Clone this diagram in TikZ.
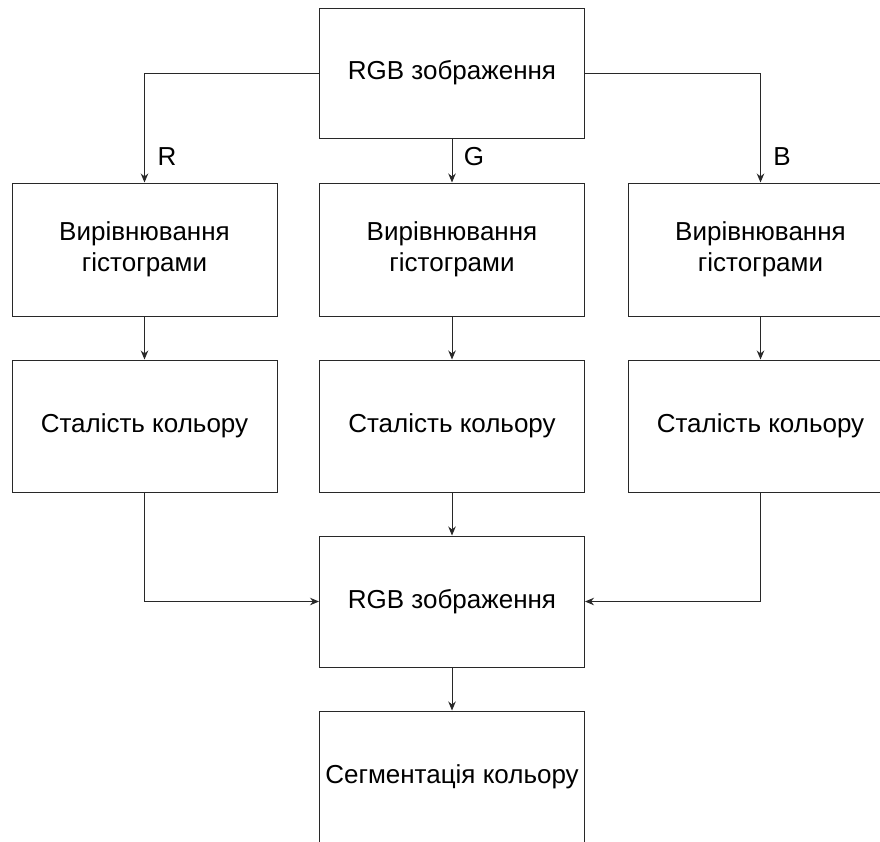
\documentclass[tikz,border=0pt]{standalone}
\usepackage{fontspec}
\setmainfont{Liberation Sans}
\usetikzlibrary{arrows.meta}
\definecolor{lineg}{RGB}{40,40,40}
\begin{document}
\begin{tikzpicture}[x=1pt,y=-1pt,
  blk/.style={draw=lineg,line width=1pt,fill=white,minimum width=265pt,minimum height=132pt,inner sep=0pt,align=center,font=\fontsize{26}{31.5}\selectfont},
  arr/.style={draw=lineg,line width=1pt,-{Stealth[length=9pt,width=7.5pt]}},
  lbl/.style={font=\fontsize{26}{30}\selectfont,inner sep=0pt}]
\useasboundingbox (0,0) rectangle (880,841);
\clip (0,0) rectangle (880,841);
\node[blk,minimum height=130pt] (top) at (452,73) {RGB зображення};
\node[blk,minimum height=133pt] (hL) at (144.5,249.5) {Вирівнювання\\гістограми};
\node[blk,minimum height=133pt] (hM) at (452,249.5) {Вирівнювання\\гістограми};
\node[blk,minimum height=133pt] (hR) at (760.5,249.5) {Вирівнювання\\гістограми};
\node[blk] (cL) at (144.5,426) {Сталість кольору};
\node[blk] (cM) at (452,426) {Сталість кольору};
\node[blk] (cR) at (760.5,426) {Сталість кольору};
\node[blk,minimum height=131pt] (rgb) at (452,601.5) {RGB зображення};
\node[blk,minimum height=131pt] (seg) at (452,776.5) {Сегментація кольору};
\node[lbl] (lR) at (167,157) {R};
\node[lbl] (lG) at (474,157) {G};
\node[lbl] (lB) at (782,157) {B};
\draw[arr] (top.west) -| (hL.north);
\draw[arr] (top.south) -- (hM.north);
\draw[arr] (top.east) -| (hR.north);
\draw[arr] (hL.south) -- (cL.north);
\draw[arr] (hM.south) -- (cM.north);
\draw[arr] (hR.south) -- (cR.north);
\draw[arr] (cM.south) -- (rgb.north);
\draw[arr] (cL.south) |- (rgb.west);
\draw[arr] (cR.south) |- (rgb.east);
\draw[arr] (rgb.south) -- (seg.north);
\end{tikzpicture}
\end{document}
